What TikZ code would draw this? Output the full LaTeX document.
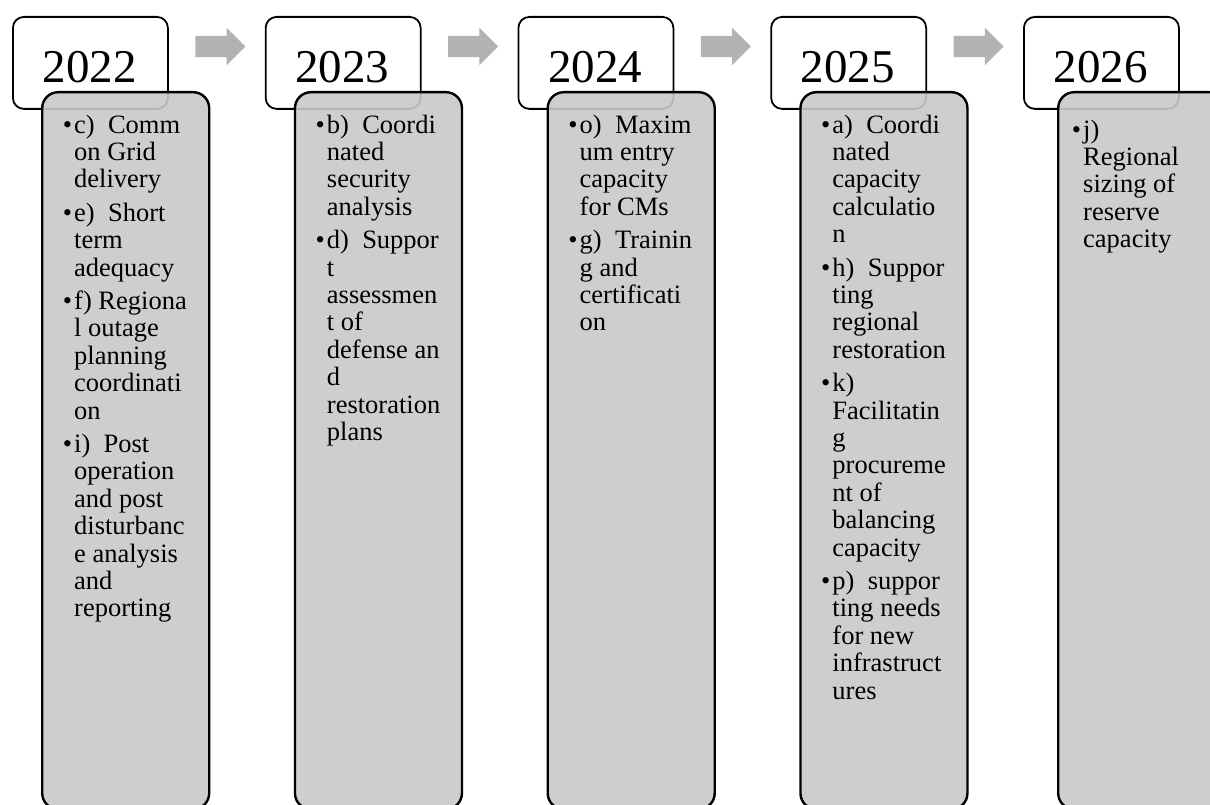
\documentclass[tikz,border=0pt]{standalone}
\usepackage{fontspec}
\setmainfont{Liberation Serif}
\usetikzlibrary{shapes.arrows}
\definecolor{boxgray}{RGB}{201,201,201}
\definecolor{arrowgray}{RGB}{178,178,178}
\tikzset{
  yearbox/.style={draw=black, line width=1.8pt, fill=white, rounded corners=11pt,
    minimum width=155pt, minimum height=92pt, inner sep=0pt, anchor=north west},
  itembox/.style={draw=black, line width=2.4pt, fill=boxgray, fill opacity=0.9,
    rounded corners=16pt, minimum width=167pt, minimum height=717pt, inner sep=0pt, anchor=north west},
  yeartext/.style={font=\fontsize{47}{47}\selectfont, inner sep=0pt, anchor=base},
  itemtext/.style={font=\fontsize{26.5}{27.4}\selectfont, align=left, inner sep=0pt, anchor=north west},
  steparrow/.style={single arrow, fill=arrowgray, draw=none, inner xsep=0pt, inner ysep=10.5pt,
    minimum height=50pt, single arrow head extend=8pt},
}
\newcommand{\bul}{\leavevmode\llap{•\hspace{2pt}}}
\begin{document}
\begin{tikzpicture}[x=1pt,y=-1pt]
\useasboundingbox (0,0) rectangle (1210,805);
\clip (0,0) rectangle (1210,805);
% arrows
\node[steparrow] (a1) at (215,46.5) {};
\node[steparrow] (a2) at (467.75,46.5) {};
\node[steparrow] (a3) at (720.5,46.5) {};
\node[steparrow] (a4) at (973.25,46.5) {};
% column 1
\node[yearbox] (y1) at (12,16) {};
\node[yeartext] (t1) at (89.5,83) {2022};
\node[itembox] (b1) at (41,91) {};
\node[itemtext] (i1) at (74,114.6) {\bul c)\ \ Comm\\on Grid\\delivery\\[6pt]\bul e)\ \ Short\\term\\adequacy\\[6pt]\bul f) Regiona\\l outage\\planning\\coordinati\\on\\[6pt]\bul i)\ \ Post\\operation\\and post\\disturbanc\\e analysis\\and\\reporting};
% column 2
\node[yearbox] (y2) at (264.75,16) {};
\node[yeartext] (t2) at (342.25,83) {2023};
\node[itembox] (b2) at (293.75,91) {};
\node[itemtext] (i2) at (326.75,114.6) {\bul b)\ \ Coordi\\nated\\security\\analysis\\[6pt]\bul d)\ \ Suppor\\t\\assessmen\\t of\\defense an\\d\\restoration\\plans};
% column 3
\node[yearbox] (y3) at (517.5,16) {};
\node[yeartext] (t3) at (595,83) {2024};
\node[itembox] (b3) at (546.5,91) {};
\node[itemtext] (i3) at (579.5,114.6) {\bul o)\ \ Maxim\\um entry\\capacity\\for CMs\\[6pt]\bul g)\ \ Trainin\\g and\\certificati\\on};
% column 4
\node[yearbox] (y4) at (770.25,16) {};
\node[yeartext] (t4) at (847.75,83) {2025};
\node[itembox] (b4) at (799.25,91) {};
\node[itemtext] (i4) at (832.25,114.6) {\bul a)\ \ Coordi\\nated\\capacity\\calculatio\\n\\[6pt]\bul h)\ \ Suppor\\ting\\regional\\restoration\\[6pt]\bul k)\\Facilitatin\\g\\procureme\\nt of\\balancing\\capacity\\[6pt]\bul p)\ \ suppor\\ting needs\\for new\\infrastruct\\ures};
% column 5
\node[yearbox] (y5) at (1023,16) {};
\node[yeartext] (t5) at (1100.5,83) {2026};
\node[itembox] (b5) at (1057,91) {};
\node[itemtext] (i5) at (1083,119.6) {\bul j)\\Regional\\sizing of\\reserve\\capacity};
\end{tikzpicture}
\end{document}
